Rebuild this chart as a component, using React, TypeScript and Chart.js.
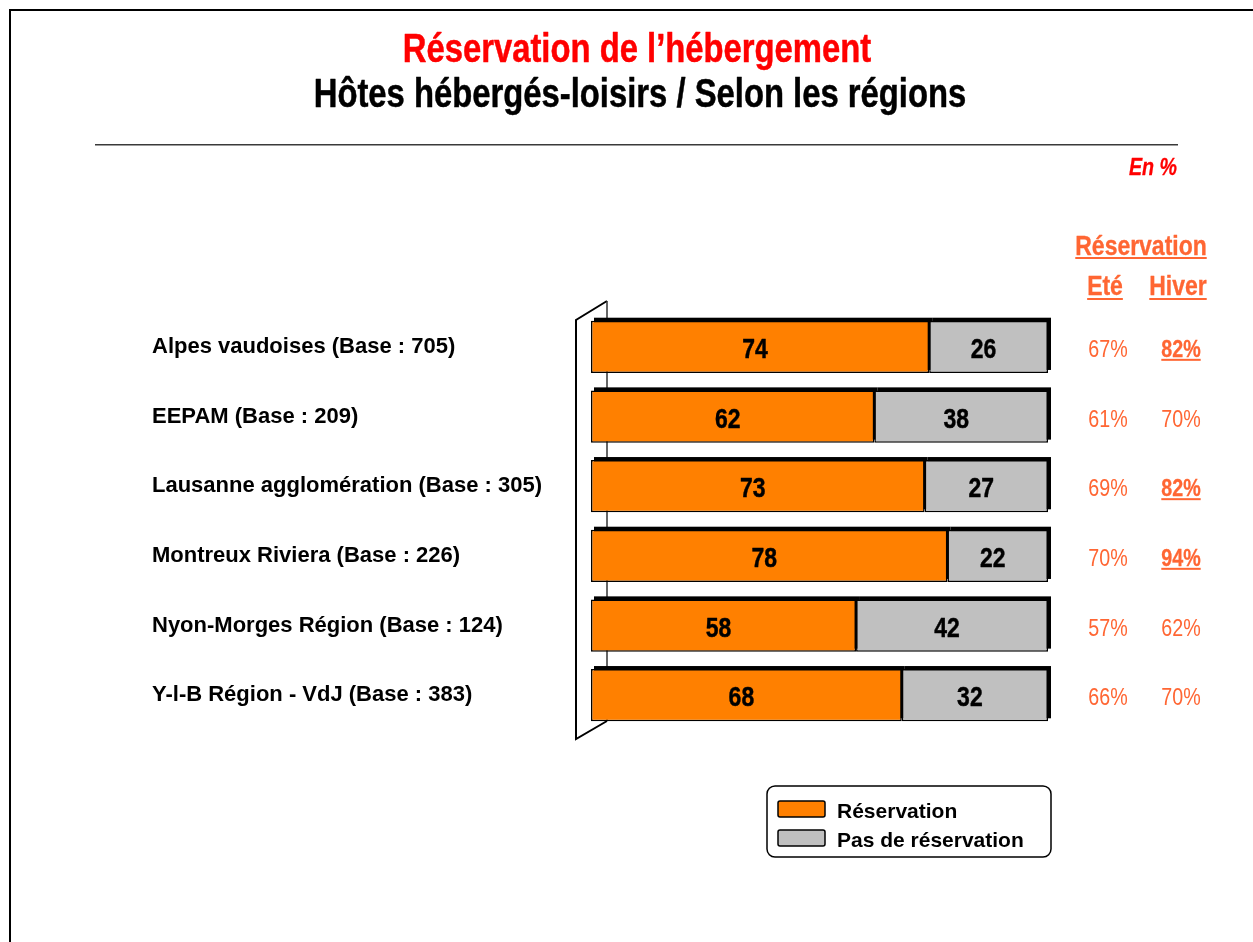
import React, { useEffect, useRef } from "react";
import { Chart, registerables } from "chart.js";

Chart.register(...registerables);

const categories = [
  "Alpes vaudoises (Base : 705)",
  "EEPAM (Base : 209)",
  "Lausanne agglomération (Base : 305)",
  "Montreux Riviera (Base : 226)",
  "Nyon-Morges Région (Base : 124)",
  "Y-l-B Région - VdJ (Base : 383)",
];
const reservation = [74, 62, 73, 78, 58, 68];
const pasReservation = [26, 38, 27, 22, 42, 32];
const summerPct = [67, 61, 69, 70, 57, 66];
const winterPct = [82, 70, 82, 94, 62, 70];
const winterHighlighted = [true, false, true, true, false, false];
const seriesNames = ["Réservation", "Pas de réservation"];
const titleText = "Réservation de l’hébergement";
const subtitleText = "Hôtes hébergés-loisirs / Selon les régions";
const unitText = "En %";
const sideHeader = "Réservation";
const sideCols = ["Eté", "Hiver"];

const SANS = "'Liberation Sans', Arial, sans-serif";
const NARROW_SCALE = 0.82;
const ORANGE = "#FF8000";
const GREY = "#C0C0C0";
const TEXT_ORANGE = "#FF6633";

// Draw text condensed horizontally (emulates Arial Narrow). Returns drawn width.
function narrowText(
  ctx: CanvasRenderingContext2D,
  text: string,
  x: number,
  y: number,
  align: CanvasTextAlign,
  underline = 0,
  embolden = 0
): number {
  ctx.save();
  ctx.translate(x, y);
  ctx.scale(NARROW_SCALE, 1);
  ctx.textAlign = align;
  ctx.textBaseline = "alphabetic";
  ctx.fillText(text, 0, 0);
  if (embolden) {
    ctx.strokeStyle = ctx.fillStyle as string;
    ctx.lineWidth = embolden;
    ctx.lineJoin = "round";
    ctx.strokeText(text, 0, 0);
  }
  const w = ctx.measureText(text).width;
  if (underline) {
    let sx = 0;
    if (align === "center") sx = -w / 2;
    else if (align === "right" || align === "end") sx = -w;
    ctx.fillRect(sx, underline, w, 2);
  }
  ctx.restore();
  return w * NARROW_SCALE;
}

const decor = {
  id: "decor",
  beforeDraw(chart: any) {
    const ctx = chart.ctx as CanvasRenderingContext2D;
    ctx.save();
    ctx.fillStyle = "#fff";
    ctx.fillRect(0, 0, chart.width, chart.height);
    // page frame
    ctx.fillStyle = "#000";
    ctx.fillRect(9, 9, chart.width - 9, 2);
    ctx.fillRect(9, 9, 2, chart.height - 9);
    // titles
    ctx.fillStyle = "#FF0000";
    ctx.font = `bold 40px ${SANS}`;
    narrowText(ctx, titleText, 637, 62, "center", 0, 0.5);
    ctx.fillStyle = "#000";
    narrowText(ctx, subtitleText, 640, 107, "center", 0, 0.5);
    // rule
    ctx.fillStyle = "#3a3a3a";
    ctx.fillRect(95, 144, 1083, 1.5);
    // unit
    ctx.fillStyle = "#FF0000";
    ctx.font = `italic bold 24px ${SANS}`;
    narrowText(ctx, unitText, 1177, 175, "right", 0, 0.3);
    // side header
    ctx.fillStyle = TEXT_ORANGE;
    ctx.font = `bold 28px ${SANS}`;
    narrowText(ctx, sideHeader, 1141, 255, "center", 2, 0.35);
    narrowText(ctx, sideCols[0], 1105, 295, "center", 3, 0.35);
    narrowText(ctx, sideCols[1], 1178, 295, "center", 3, 0.35);
    ctx.restore();
  },
  beforeDatasetsDraw(chart: any) {
    const ctx = chart.ctx as CanvasRenderingContext2D;
    const a = chart.chartArea;
    ctx.save();
    // 3D wall
    ctx.strokeStyle = "#000";
    ctx.lineWidth = 2;
    const fx = a.left - 15;
    const bx = a.left + 16;
    ctx.beginPath();
    ctx.moveTo(bx, a.bottom - 9);
    ctx.lineTo(fx, a.bottom + 9);
    ctx.lineTo(fx, a.top + 8);
    ctx.lineTo(bx, a.top - 11);
    ctx.stroke();
    ctx.lineWidth = 1.5;
    ctx.strokeStyle = "#333";
    ctx.beginPath();
    ctx.moveTo(bx, a.top - 11);
    ctx.lineTo(bx, a.bottom - 9);
    ctx.stroke();
    // bar depth shadows
    ctx.fillStyle = "#000";
    chart.data.datasets.forEach((_: any, di: number) => {
      chart.getDatasetMeta(di).data.forEach((bar: any) => {
        const left = Math.min(bar.x, bar.base);
        const w = Math.abs(bar.x - bar.base);
        ctx.fillRect(left + 3, bar.y - bar.height / 2 - 3, w, bar.height);
      });
    });
    ctx.restore();
  },
  afterDatasetsDraw(chart: any) {
    const ctx = chart.ctx as CanvasRenderingContext2D;
    ctx.save();
    // values inside bars
    ctx.fillStyle = "#000";
    ctx.font = `bold 28px ${SANS}`;
    chart.data.datasets.forEach((ds: any, di: number) => {
      chart.getDatasetMeta(di).data.forEach((bar: any, i: number) => {
        const cx = (bar.x + bar.base) / 2 - 5;
        narrowText(ctx, String(ds.data[i]), cx, bar.y + 11, "center", 0, 0.45);
      });
    });
    // side columns
    const meta = chart.getDatasetMeta(0);
    ctx.fillStyle = TEXT_ORANGE;
    meta.data.forEach((bar: any, i: number) => {
      const y = bar.y + 10;
      ctx.font = `24px ${SANS}`;
      narrowText(ctx, `${summerPct[i]}%`, 1108, y, "center");
      if (winterHighlighted[i]) {
        ctx.font = `bold 24px ${SANS}`;
        narrowText(ctx, `${winterPct[i]}%`, 1181, y, "center", 2, 0.3);
      } else {
        narrowText(ctx, `${winterPct[i]}%`, 1181, y, "center");
      }
    });
    // legend
    const lx = 767, ly = 786, lw = 284, lh = 71;
    ctx.strokeStyle = "#000";
    ctx.lineWidth = 1.5;
    ctx.fillStyle = "#fff";
    ctx.beginPath();
    (ctx as any).roundRect(lx, ly, lw, lh, 8);
    ctx.fill();
    ctx.stroke();
    const baselines = [818, 847];
    chart.data.datasets.forEach((ds: any, di: number) => {
      const sy = baselines[di] - 17;
      ctx.fillStyle = ds.backgroundColor;
      ctx.strokeStyle = "#000";
      ctx.lineWidth = 1.5;
      ctx.beginPath();
      (ctx as any).roundRect(778, sy, 47, 16, 2);
      ctx.fill();
      ctx.stroke();
      ctx.fillStyle = "#000";
      ctx.font = `bold 21px ${SANS}`;
      ctx.textAlign = "left";
      ctx.textBaseline = "alphabetic";
      ctx.fillText(ds.label, 837, baselines[di]);
    });
    ctx.restore();
  },
};

export default function App() {
  const ref = useRef<HTMLCanvasElement | null>(null);
  useEffect(() => {
    document.body.style.margin = "0";
    const canvas = ref.current;
    if (!canvas) return;
    const chart = new Chart(canvas, {
      type: "bar",
      data: {
        labels: categories,
        datasets: [
          {
            label: seriesNames[0],
            data: reservation,
            backgroundColor: ORANGE,
            borderColor: "#000",
            borderWidth: 1.5,
            borderSkipped: false,
          },
          {
            label: seriesNames[1],
            data: pasReservation,
            backgroundColor: GREY,
            borderColor: "#000",
            borderWidth: 1.5,
            borderSkipped: false,
          },
        ],
      },
      options: {
        indexAxis: "y",
        responsive: false,
        maintainAspectRatio: false,
        animation: false,
        layout: { padding: { left: 152, top: 312, right: 205, bottom: 212 } },
        datasets: { bar: { categoryPercentage: 1, barPercentage: 0.75 } },
        scales: {
          x: { stacked: true, min: 0, max: 100, display: false },
          y: {
            stacked: true,
            grid: { display: false },
            border: { display: false },
            ticks: {
              crossAlign: "far",
              color: "#000",
              padding: 0,
              font: { family: SANS, size: 22, weight: "bold" },
            },
            afterFit: (s: any) => {
              s.width = 439;
            },
          },
        },
        plugins: { legend: { display: false }, tooltip: { enabled: false } },
      } as any,
      plugins: [decor],
    });
    return () => chart.destroy();
  }, []);
  return <canvas ref={ref} width={1253} height={942} style={{ display: "block" }} />;
}
